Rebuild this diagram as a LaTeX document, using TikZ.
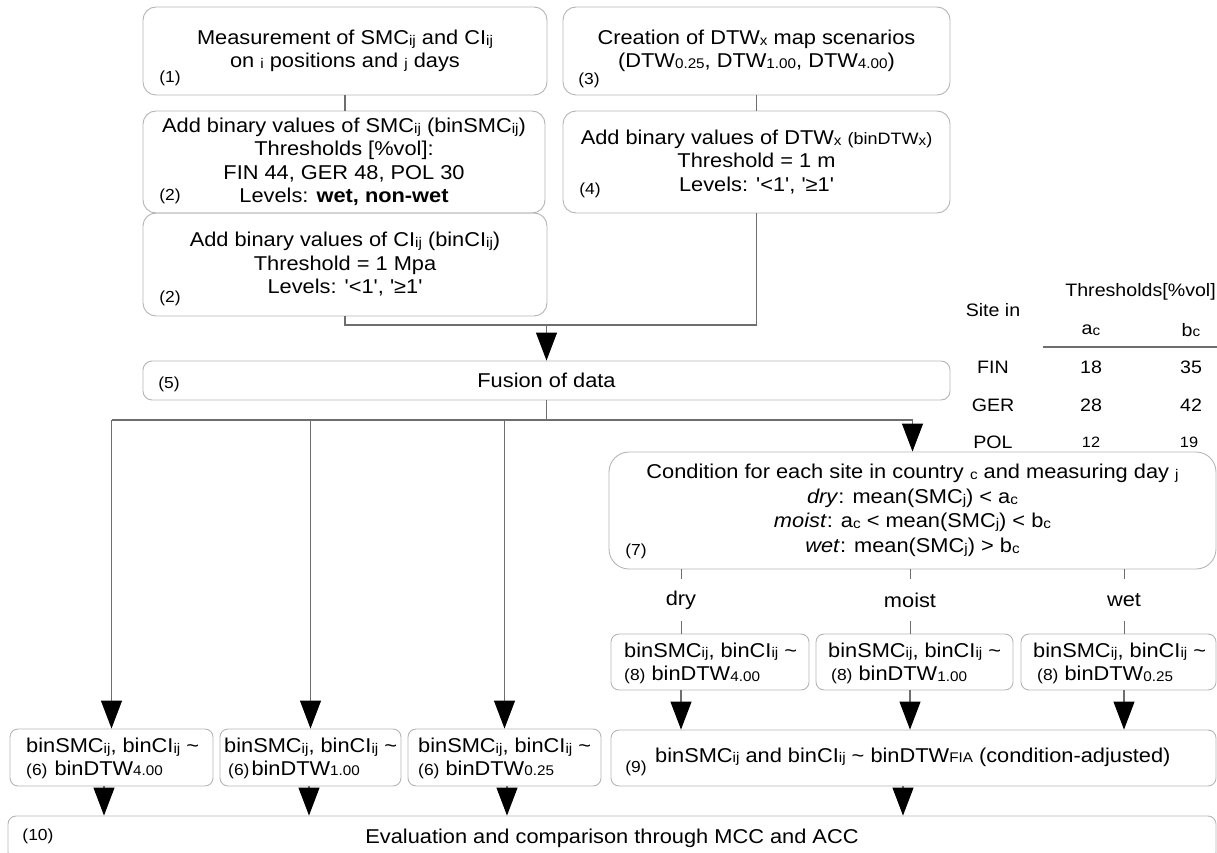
\documentclass[tikz,border=0pt]{standalone}
\usepackage{fontspec}
\newfontfamily\mainf{Liberation Sans}[FakeStretch=1.09]
\usetikzlibrary{arrows.meta}
\definecolor{boxgray}{HTML}{B4B4B4}
\definecolor{linegray}{HTML}{6E6E6E}
\newcommand{\sbs}[1]{\raisebox{-0.6pt}{\fontsize{14}{14}\selectfont #1}}
\newcommand{\lbl}{\fontsize{16}{17}\selectfont}
\begin{document}
\begin{tikzpicture}[x=1pt,y=-1pt,
  every node/.style={font=\mainf\fontsize{20}{23.5}\selectfont, inner sep=0pt, text=black},
  box/.style={draw=boxgray, line width=0.9pt, rounded corners=#1, align=center},
  box/.default=8pt,
  conn/.style={draw=linegray, line width=1.1pt},
  arr/.style={conn, -{Triangle[width=21pt,length=28pt,color=black]}},
  lab/.style={font=\mainf\lbl},
  tab/.style={font=\mainf\fontsize{18}{19}\selectfont},
  tabs/.style={font=\mainf\fontsize{15}{16}\selectfont},
  cnd/.style={minimum height=42pt},
]
\clip (0,0) rectangle (1217,853);
% top row
\node[box=13pt, minimum width=404pt, minimum height=88pt] (b1) at (345,51)
  {Measurement of SMC\sbs{ij} and CI\sbs{ij}\\on \sbs{i} positions and \sbs{j} days};
\node[box=13pt, minimum width=402pt, minimum height=102pt] (b2) at (344,162)
  {Add binary values of SMC\sbs{ij} (binSMC\sbs{ij})\\Thresholds [\%vol]:\\FIN 44, GER 48, POL 30\\Levels: \textbf{wet, non-wet}};
\node[box=13pt, minimum width=404pt, minimum height=103pt] (b2b) at (345,264.5)
  {Add binary values of CI\sbs{ij} (binCI\sbs{ij})\\Threshold = 1 Mpa\\Levels: '<1', '\char"2265 1'};
\node[box=13pt, minimum width=387pt, minimum height=88pt] (b3) at (756.5,51)
  {Creation of DTW\sbs{x} map scenarios\\(DTW\sbs{0.25}, DTW\sbs{1.00}, DTW\sbs{4.00})};
\node[box=13pt, minimum width=387pt, minimum height=102pt] (b4) at (756.5,162)
  {Add binary values of DTW\sbs{x} {\fontsize{16.5}{16}\selectfont(binDTW\sbs{x})}\\Threshold = 1 m\\Levels: '<1', '\char"2265 1'};
\node[lab] (l1) at (170,78) {(1)};
\node[lab] (l2) at (170,196) {(2)};
\node[lab] (l2b) at (170,298) {(2)};
\node[lab] (l3) at (589,80) {(3)};
\node[lab] (l4) at (590,190) {(4)};
% fusion
\node[box=9pt, minimum width=807pt, minimum height=39pt] (fus) at (546.5,380.5) {Fusion of data};
\node[lab] (l5) at (169,384) {(5)};
% table
\node[tab] (tSite) at (993,310) {Site in};
\node[tab, anchor=east] (tThr) at (1216,292) {Thresholds[\%vol]};
\node[tab] (tA) at (1091,330) {a\sbs{c}};
\node[tab] (tB) at (1191,330) {b\sbs{c}};
\node[tab] (tF) at (993,367) {FIN};
\node[tab] (tF1) at (1091,367) {18};
\node[tab] (tF2) at (1191,367) {35};
\node[tab] (tG) at (993,405) {GER};
\node[tab] (tG1) at (1091,405) {28};
\node[tab] (tG2) at (1191,405) {42};
\node[tab] (tP) at (993,442) {POL};
\node[tabs] (tP1) at (1091,442) {12};
\node[tabs] (tP2) at (1189,442) {19};
\coordinate (rA) at (1043,347);
\coordinate (rB) at (1217,347);
\draw[conn] (rA) -- (rB);
% condition
\node[box=20pt, minimum width=607pt, minimum height=117pt, font=\mainf\fontsize{20}{24.5}\selectfont] (cond) at (912.5,510.5)
  {Condition for each site in country \sbs{c} and measuring day \sbs{j}\\
   \textit{dry}: mean(SMC\sbs{j}) < a\sbs{c}\\
   \textit{moist}: a\sbs{c} < mean(SMC\sbs{j}) < b\sbs{c}\\
   \textit{wet}: mean(SMC\sbs{j}) > b\sbs{c}};
\node[lab] (l7) at (636,551) {(7)};
\node[cnd] (ldry) at (681,600) {dry};
\node[cnd] (lmoist) at (910,600) {moist};
\node[cnd] (lwet) at (1124,600) {wet};
% boxes 8
\node[box, minimum width=198pt, minimum height=56pt] (b8a) at (710,662) {};
\node[box, minimum width=197pt, minimum height=56pt] (b8b) at (914.5,662) {};
\node[box, minimum width=195pt, minimum height=56pt] (b8c) at (1118.5,662) {};
\node[anchor=west, align=left] (t8a) at (624,663.5) {binSMC\sbs{ij}, binCI\sbs{ij} \textasciitilde\\{\lbl(8)} binDTW\sbs{4.00}};
\node[anchor=west, align=left] (t8b) at (828,663.5) {binSMC\sbs{ij}, binCI\sbs{ij} \textasciitilde\\\hspace{3pt}{\lbl(8)} binDTW\sbs{1.00}};
\node[anchor=west, align=left] (t8c) at (1033,663.5) {binSMC\sbs{ij}, binCI\sbs{ij} \textasciitilde\\\hspace{4pt}{\lbl(8)} binDTW\sbs{0.25}};
% box 9
\node[box, minimum width=605pt, minimum height=56pt] (b9) at (913.5,758) {};
\node[anchor=west] (t9) at (655,757) {binSMC\sbs{ij} and binCI\sbs{ij} \textasciitilde{} binDTW\sbs{FIA} (condition-adjusted)};
\node[lab] (l9) at (636,768) {(9)};
% boxes 6
\node[box, minimum width=203pt, minimum height=57pt] (b6a) at (111.5,757.5) {};
\node[box, minimum width=181pt, minimum height=57pt] (b6b) at (310.5,757.5) {};
\node[box, minimum width=193pt, minimum height=57pt] (b6c) at (504.5,757.5) {};
\node[anchor=west, align=left] (t6a) at (26,758.5) {binSMC\sbs{ij}, binCI\sbs{ij} \textasciitilde\\[-1pt]{\lbl(6)}\hspace{7pt}binDTW\sbs{4.00}};
\node[anchor=west, align=left] (t6b) at (224,758.5) {binSMC\sbs{ij}, binCI\sbs{ij} \textasciitilde\\[-1pt]\hspace{4pt}{\lbl(6)}\hspace{2pt}binDTW\sbs{1.00}};
\node[anchor=west, align=left] (t6c) at (418,758.5) {binSMC\sbs{ij}, binCI\sbs{ij} \textasciitilde\\[-1pt]{\lbl(6)} binDTW\sbs{0.25}};
% box 10
\node[box, minimum width=1208pt, minimum height=44pt] (b10) at (612,838) {Evaluation and comparison through MCC and ACC};
\node[lab] (l10) at (38,836) {(10)};
% connectors top
\draw[conn] (b1.south) -- (b1.south |- b2.north);
\draw[conn] (b3.south) -- (b3.south |- b4.north);
\coordinate (jTop) at (546.5,325);
\draw[conn] (b2b.south) |- (jTop) -| (b4.south);
\draw[arr] (jTop) -- (fus.north);
% fusion split
\coordinate (jL) at (0,420);
\draw[conn] (fus.south) -- (fus.south |- jL);
\draw[conn] (b6a.north |- jL) -- (cond.north |- jL);
\draw[arr] (b6a.north |- jL) -- (b6a.north);
\draw[arr] (b6b.north |- jL) -- (b6b.north);
\draw[arr] (b6c.north |- jL) -- (b6c.north);
\draw[arr] (cond.north |- jL) -- (cond.north);
% condition branches
\foreach \l/\b in {ldry/b8a, lmoist/b8b, lwet/b8c}{
  \draw[conn, line width=0.8pt] (cond.south -| \l.north) -- (\l.north);
  \draw[conn, line width=0.8pt] (\l.south) -- (\l.south |- \b.north);
  \draw[arr] (\b.south -| \l) -- (\l |- b9.north);
}
% to evaluation
\draw[arr] ([xshift=-7.5pt]b6a.south) -- ([xshift=-7.5pt]b6a.south |- b10.north);
\draw[arr] ([xshift=-1.5pt]b6b.south) -- ([xshift=-1.5pt]b6b.south |- b10.north);
\draw[arr] ([xshift=2.5pt]b6c.south) -- ([xshift=2.5pt]b6c.south |- b10.north);
\draw[arr] ([xshift=-10.5pt]b9.south) -- ([xshift=-10.5pt]b9.south |- b10.north);
\end{tikzpicture}
\end{document}
